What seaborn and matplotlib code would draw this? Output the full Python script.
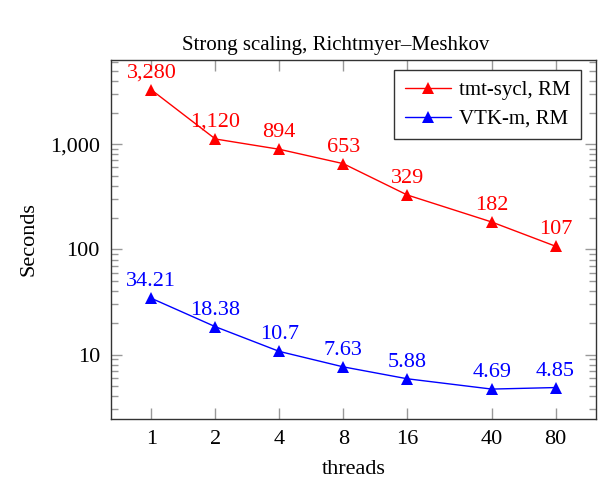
import numpy as np
import pandas as pd
import matplotlib
matplotlib.use("Agg")
import matplotlib.pyplot as plt
import seaborn as sns
from matplotlib.ticker import FixedLocator, FuncFormatter, LogLocator, NullFormatter, NullLocator

threads = [1, 2, 4, 8, 16, 40, 80]
tmt_sycl = [3280, 1120, 894, 653, 329, 182, 107]
vtkm = [34.21, 18.38, 10.7, 7.63, 5.88, 4.69, 4.85]
tmt_labels = ["3,280", "1,120", "894", "653", "329", "182", "107"]
vtkm_labels = ["34.21", "18.38", "10.7", "7.63", "5.88", "4.69", "4.85"]
series_names = ["tmt-sycl, RM", "VTK-m, RM"]
colors = ["#ff0000", "#0000ff"]

df = pd.concat([
    pd.DataFrame({"threads": threads, "Seconds": tmt_sycl, "series": series_names[0]}),
    pd.DataFrame({"threads": threads, "Seconds": vtkm, "series": series_names[1]}),
])

sns.set_theme(style="ticks")
plt.rcParams["font.family"] = ["Liberation Serif", "DejaVu Serif"]
plt.rcParams["text.color"] = "black"
plt.rcParams["axes.labelcolor"] = "black"
plt.rcParams["xtick.labelcolor"] = "black"
plt.rcParams["ytick.labelcolor"] = "black"

fig = plt.figure(figsize=(6, 4.83), dpi=100)
ax = fig.add_axes([0.185, 0.1325, 0.8083, 0.7433])

sns.lineplot(data=df, x="threads", y="Seconds", hue="series", palette=colors,
             marker="^", markersize=8, markeredgewidth=0, linewidth=1.0,
             ax=ax, legend=True)

ax.set_xscale("log", base=2)
ax.set_yscale("log")

# pgfplots-style enlargement by 10%
lx0, lx1 = np.log2(min(threads)), np.log2(max(threads))
dx = 0.1 * (lx1 - lx0)
ax.set_xlim(2 ** (lx0 - dx), 2 ** (lx1 + dx))
ally = tmt_sycl + vtkm
ly0, ly1 = np.log10(min(ally)), np.log10(max(ally))
dy = 0.1 * (ly1 - ly0)
ax.set_ylim(10 ** (ly0 - dy), 10 ** (ly1 + dy))

ax.xaxis.set_major_locator(FixedLocator(threads))
ax.xaxis.set_major_formatter(FuncFormatter(lambda v, p: f"{int(round(v))}"))
ax.xaxis.set_minor_locator(NullLocator())
ax.yaxis.set_major_locator(FixedLocator([10, 100, 1000]))
ax.yaxis.set_major_formatter(FuncFormatter(lambda v, p: f"{int(round(v)):,}"))
ax.yaxis.set_minor_locator(LogLocator(base=10, subs=np.arange(2, 10)))
ax.yaxis.set_minor_formatter(NullFormatter())

ax.tick_params(which="both", direction="in", top=True, right=True, color="#999999",
               labelsize=16, pad=8, labelcolor="black")
ax.tick_params(which="major", length=8, width=1)
ax.tick_params(which="minor", length=5, width=1)
for s in ax.spines.values():
    s.set_color("#333333")
    s.set_linewidth(1.0)

for xv, yv, lab in zip(threads, tmt_sycl, tmt_labels):
    ax.annotate(lab, (xv, yv), xytext=(0, 5), textcoords="offset points",
                ha="center", va="bottom", color=colors[0], fontsize=16)
for xv, yv, lab in zip(threads, vtkm, vtkm_labels):
    ax.annotate(lab, (xv, yv), xytext=(0, 5), textcoords="offset points",
                ha="center", va="bottom", color=colors[1], fontsize=16)

ax.set_xlabel("threads", fontsize=16, labelpad=8, color="black")
ax.set_ylabel("Seconds", fontsize=16, labelpad=8, color="black")
ax.set_title("Strong scaling, Richtmyer\u2013Meshkov", fontsize=15, pad=7,
             color="black", x=0.464)

leg = ax.legend(loc="upper right", bbox_to_anchor=(0.969, 0.972), fontsize=15,
                frameon=True, fancybox=False, edgecolor="#333333", framealpha=1,
                borderaxespad=0, handlelength=2.2, handletextpad=0.4,
                borderpad=0.5, labelspacing=0.45)
leg.get_frame().set_linewidth(1.0)
for t in leg.get_texts():
    t.set_color("black")

fig.savefig("out.png", dpi=100)
